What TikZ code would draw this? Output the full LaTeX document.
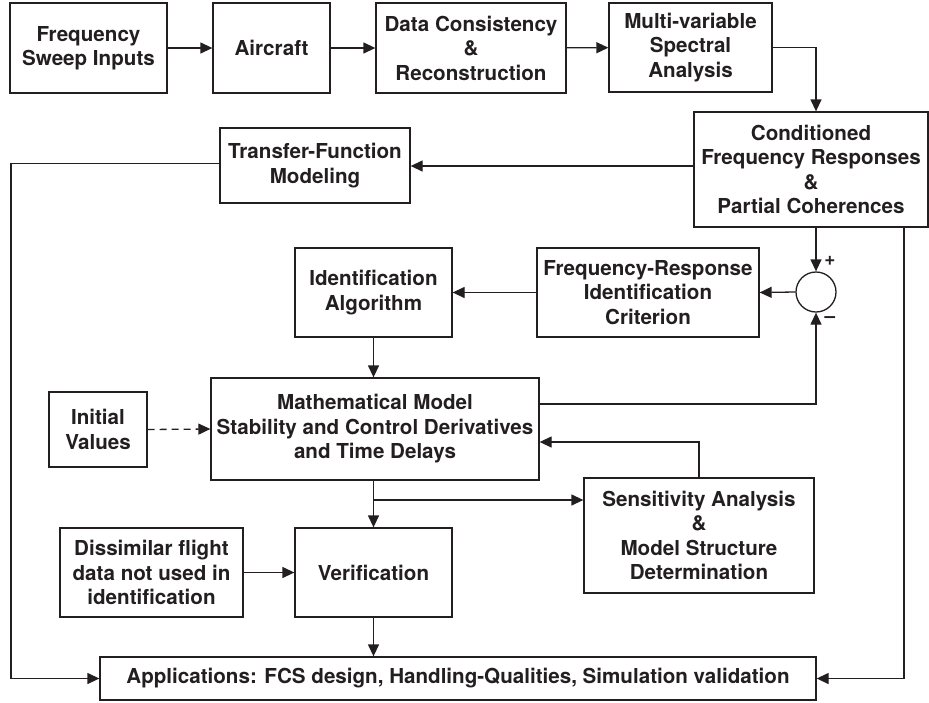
\documentclass[tikz,border=0pt]{standalone}
\usepackage{fontspec}
\setmainfont{TeX Gyre Heros}
\usepackage{tikz}
\usetikzlibrary{positioning,arrows.meta,calc}
\definecolor{ink}{HTML}{231F20}

\tikzset{
  blk/.style={draw=ink,text=ink,line width=1.3pt,align=center,inner sep=0pt,
    font=\bfseries\fontsize{20.6}{24.5}\selectfont},
  arr/.style={draw=ink,line width=1.3pt,-{Triangle[length=12pt,width=11pt]}},
  sgn/.style={text=ink,inner sep=0pt,font=\bfseries\fontsize{19}{19}\selectfont},
}

\begin{document}
\begin{tikzpicture}[x=1pt,y=-1pt]
  \useasboundingbox (0,0) rectangle (929,702);

  % top row
  \node[blk,minimum width=157,minimum height=90] (fsi) at (88.5,48) {Frequency\\Sweep Inputs};
  \node[blk,minimum width=117,minimum height=90] (air) at (271.5,48) {Aircraft};
  \node[blk,minimum width=190,minimum height=90] (dcr) at (471,48) {Data Consistency\\\&\\Reconstruction};
  \node[blk,minimum width=163,minimum height=89] (msa) at (690.5,47.5) {Multi-variable\\Spectral\\Analysis};

  \node[blk,minimum width=234,minimum height=115] (cfr) at (811,169.5) {Conditioned\\Frequency Responses\\\&\\Partial Coherences};
  \node[blk,minimum width=190,minimum height=75] (tfm) at (315,165.5) {Transfer-Function\\Modeling};

  % identification loop
  \node[blk,minimum width=157,minimum height=89] (ida) at (373.5,292.5) {Identification\\Algorithm};
  \node[blk,minimum width=222,minimum height=89] (fric) at (648,292.5) {Frequency-Response\\Identification\\Criterion};
  \node[draw=ink,line width=1.3pt,circle,minimum size=40,inner sep=0pt] (sum) at (816,292) {};
  \node[sgn] (plus) at (830,261) {+};
  \node[sgn] (minus) at (830,320) {--};

  \node[blk,minimum width=328,minimum height=102] (mm) at (375,429) {Mathematical Model\\Stability and Control Derivatives\\and Time Delays};
  \node[blk,minimum width=98,minimum height=75] (iv) at (98,429.5) {Initial\\Values};
  \node[blk,minimum width=230,minimum height=115] (sa) at (699,535.5) {Sensitivity Analysis\\\&\\Model Structure\\Determination};

  \node[blk,minimum width=157,minimum height=89] (ver) at (373.5,572.5) {Verification};
  \node[blk,minimum width=183,minimum height=89] (dis) at (151.5,572.5) {Dissimilar flight\\data not used in\\identification};
  \node[blk,minimum width=716,minimum height=43] (app) at (458,678.5) {Applications: FCS design, Handling-Qualities, Simulation validation};

  \coordinate (lft) at (11,0);
  \coordinate (rgt) at (904,0);
  \coordinate (split) at (374,500);

  % connectors
  \draw[arr] (fsi) -- (air);
  \draw[arr] (air) -- (dcr);
  \draw[arr] (dcr) -- (msa);
  \draw[arr] (msa.east) -| (sum |- cfr.north);
  \draw[arr] ([yshift=3.5pt]cfr.west) -- ([yshift=3.5pt]cfr.west -| tfm.east);
  \draw[arr] ([yshift=2pt]tfm.west) -| (lft |- app.west) -- (app.west);
  \draw[arr] (sum |- cfr.south) -- (sum.north);
  \draw[arr] (rgt |- cfr.south) |- (app.east);
  \draw[arr] (sum.west) -- (fric.east);
  \draw[arr] (fric.west) -- (ida.east);
  \draw[arr] (ida.south) -- (ida.south |- mm.north);
  \draw[arr] ([yshift=25pt]mm.east) -| (sum.south);
  \draw[arr] (sa.north) |- ([yshift=-13pt]mm.east);
  \draw[arr] (ver.north |- mm.south) -- (ver.north);
  \draw[arr] (split) -- (split -| sa.west);
  \draw[arr,dash pattern=on 7pt off 5pt] (iv.east) -- (mm.west);
  \draw[arr] (dis) -- (ver);
  \draw[arr] (ver.south) -- (ver.south |- app.north);
\end{tikzpicture}
\end{document}
